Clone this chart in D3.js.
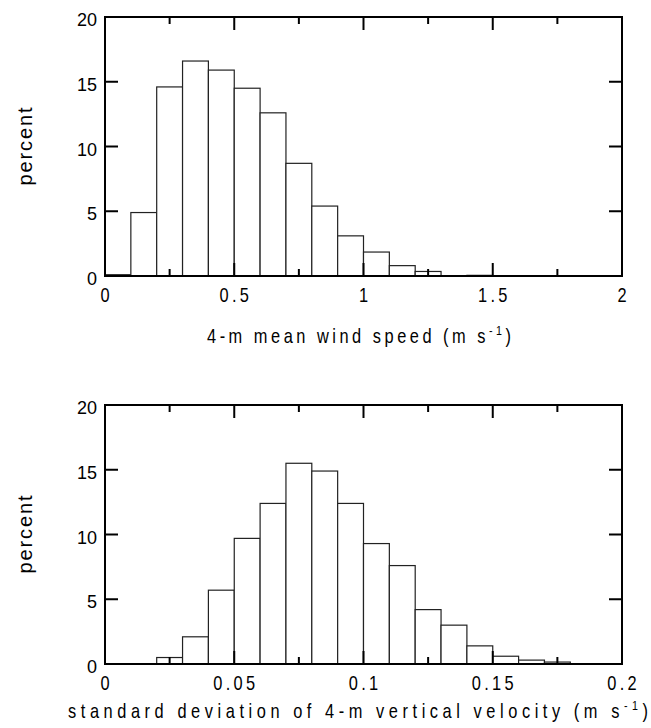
<html>
<head>
<meta charset="utf-8">
<script src="https://cdn.jsdelivr.net/npm/d3@7"></script>
<style>
body { margin: 0; background: #fff; }
svg { display: block; }
svg text { font-family: "Liberation Sans", Arial, sans-serif; fill: #000; }
.ylab { font-size: 18px; }
.xlab { font-size: 20px; letter-spacing: 4px; }
.title { font-size: 20px; }
.ytitle { font-size: 20px; }
.bar { fill: #fff; stroke: #222; stroke-width: 1.2; }
.frame { fill: none; stroke: #000; stroke-width: 2; }
.tick { stroke: #000; stroke-width: 2; }
</style>
</head>
<body>
<script>

var w = 651, h = 728;
var narrow = 0.82;   // horizontal squeeze for the condensed plotter font

// top panel: 4-m mean wind speed, bins of 0.1 m/s starting at 0
var windBinWidth = 0.1;
var windPct = [0.1, 4.9, 14.6, 16.6, 15.9, 14.5, 12.6, 8.7, 5.4, 3.1, 1.85, 0.8, 0.35, 0, 0.05, 0, 0.03, 0, 0, 0];
var windMajor = [0, 0.5, 1, 1.5, 2];
var windMinor = [0.25, 0.75, 1.25, 1.75];
var windTickLabels = ["0", "0.5", "1", "1.5", "2"];

// bottom panel: std dev of vertical velocity, bins of 0.01 m/s starting at 0
var sigBinWidth = 0.01;
var sigPct = [0, 0, 0.5, 2.1, 5.7, 9.7, 12.4, 15.5, 14.9, 12.4, 9.3, 7.6, 4.2, 3.0, 1.4, 0.6, 0.3, 0.15, 0, 0];
var sigMajor = [0, 0.05, 0.1, 0.15, 0.2];
var sigMinor = [0.025, 0.075, 0.125, 0.175];
var sigTickLabels = ["0", "0.05", "0.1", "0.15", "0.2"];

var yTicks = [0, 5, 10, 15, 20];
var yTickLabels = ["0", "5", "10", "15", "20"];

var svg = d3.select("body").append("svg")
    .attr("width", w)
    .attr("height", h);

function panel(opt) {
    var x = d3.scaleLinear().domain(opt.xdom).range([105, 622]);
    var y = d3.scaleLinear().domain([0, 20]).range([opt.bottom, opt.top]);
    var g = svg.append("g");

    var bins = opt.values.map(function(v, i) {
        return { x0: i * opt.bw, x1: (i + 1) * opt.bw, v: v };
    }).filter(function(d) { return d.v > 0; });

    g.selectAll("rect.bar")
        .data(bins)
        .enter().append("rect")
        .attr("class", "bar")
        .attr("x", function(d) { return x(d.x0); })
        .attr("width", function(d) { return x(d.x1) - x(d.x0); })
        .attr("y", function(d) { return y(d.v); })
        .attr("height", function(d) { return y(0) - y(d.v); });

    // inward ticks on all four sides
    var major = 13, minor = 7;
    function xtick(v, len) {
        g.append("line").attr("class", "tick").attr("x1", x(v)).attr("x2", x(v)).attr("y1", y(0)).attr("y2", y(0) - len);
        g.append("line").attr("class", "tick").attr("x1", x(v)).attr("x2", x(v)).attr("y1", y(20)).attr("y2", y(20) + len);
    }
    opt.major.forEach(function(v) { xtick(v, major); });
    opt.minor.forEach(function(v) { xtick(v, minor); });
    yTicks.forEach(function(v) {
        g.append("line").attr("class", "tick").attr("x1", x.range()[0]).attr("x2", x.range()[0] + major).attr("y1", y(v)).attr("y2", y(v));
        g.append("line").attr("class", "tick").attr("x1", x.range()[1]).attr("x2", x.range()[1] - major).attr("y1", y(v)).attr("y2", y(v));
    });

    g.append("rect").attr("class", "frame")
        .attr("x", x.range()[0]).attr("y", y(20))
        .attr("width", x.range()[1] - x.range()[0])
        .attr("height", y(0) - y(20));

    // x tick labels, squeezed horizontally
    g.selectAll("g.xl")
        .data(opt.major)
        .enter().append("g")
        .attr("transform", function(d) { return "translate(" + (x(d) + 1.6) + "," + (y(0) + 26) + ") scale(" + narrow + ",1)"; })
        .append("text")
        .attr("class", "xlab")
        .attr("text-anchor", "middle")
        .text(function(d, i) { return opt.labels[i]; });

    g.selectAll("text.ylab")
        .data(yTicks)
        .enter().append("text")
        .attr("class", "ylab")
        .attr("x", 97)
        .attr("y", function(d) { return y(d) + 9; })
        .attr("text-anchor", "end")
        .text(function(d, i) { return yTickLabels[i]; });

    // axis title
    var t = g.append("g")
        .attr("transform", "translate(" + opt.titleX + "," + opt.titleY + ") scale(" + narrow + ",1)")
        .append("text")
        .attr("class", "title")
        .attr("text-anchor", "middle")
        .attr("textLength", opt.titleLen / narrow)
        .attr("lengthAdjust", "spacing");
    t.append("tspan").text(opt.title);
    t.append("tspan").attr("dy", -8).attr("font-size", "13px").text("-1");
    t.append("tspan").attr("dy", 8).text(")");

    var cy = (y(0) + y(20)) / 2;
    g.append("text")
        .attr("class", "ytitle")
        .attr("transform", "translate(32," + cy + ") rotate(-90)")
        .attr("text-anchor", "middle")
        .attr("textLength", 78)
        .attr("lengthAdjust", "spacing")
        .text("percent");
}

panel({
    xdom: [0, 2], top: 17, bottom: 276, values: windPct, bw: windBinWidth,
    major: windMajor, minor: windMinor, labels: windTickLabels,
    title: "4-m mean wind speed (m s", titleX: 359, titleY: 343, titleLen: 304
});

panel({
    xdom: [0, 0.2], top: 405, bottom: 664, values: sigPct, bw: sigBinWidth,
    major: sigMajor, minor: sigMinor, labels: sigTickLabels,
    title: "standard deviation of 4-m vertical velocity (m s", titleX: 358, titleY: 718, titleLen: 580
});

</script>
</body>
</html>
